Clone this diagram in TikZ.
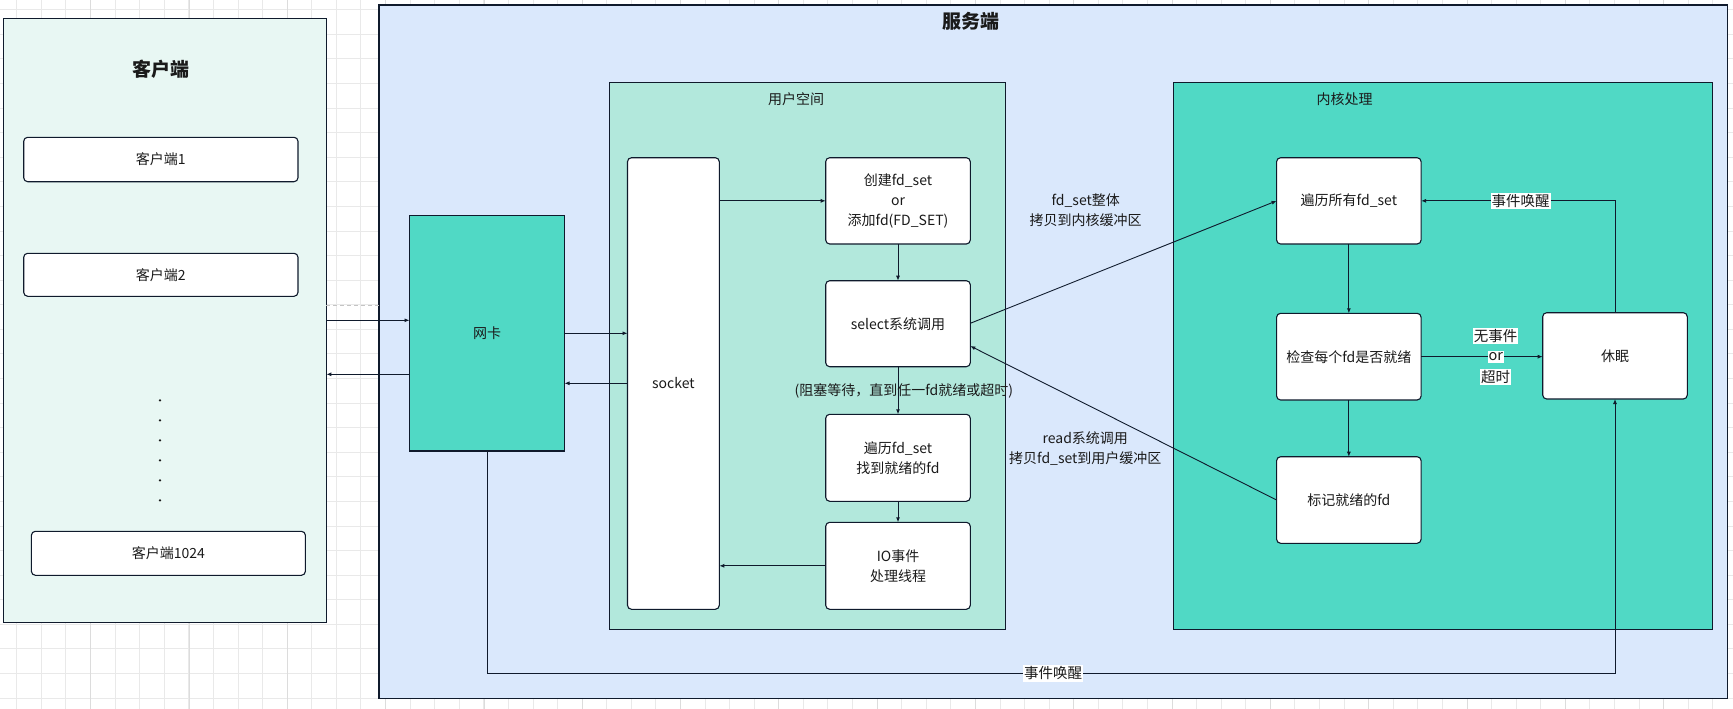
\documentclass[tikz,border=0pt]{standalone}
\usepackage{fontspec}
\setmainfont{Noto Sans CJK SC}
\usetikzlibrary{arrows.meta}
\definecolor{gridc}{HTML}{E9E9E9}
\definecolor{gridm}{HTML}{DCDCDC}
\definecolor{guidec}{HTML}{C4C4C4}
\definecolor{clientfill}{HTML}{E8F7F3}
\definecolor{serverfill}{HTML}{DAE8FC}
\definecolor{userfill}{HTML}{B2E8DC}
\definecolor{kernfill}{HTML}{50D9C5}
\definecolor{edgec}{HTML}{0F1A2C}
\definecolor{txtc}{HTML}{1A1A1A}
\begin{document}
\begin{tikzpicture}[x=1pt,y=-1pt,
  every node/.style={text=txtc, font=\fontsize{14}{20}\selectfont, inner sep=0pt, outer sep=0pt, align=center},
  sz/.style n args={2}{minimum width=#1pt, minimum height=#2pt},
  grp/.style={draw=edgec, line width=1.1pt, rectangle},
  wbox/.style={draw=edgec, line width=1.1pt, fill=white, rounded corners=4pt, rectangle},
  titlefont/.style={font=\fontsize{19}{22}\selectfont\bfseries},
  arr/.style={draw=edgec, line width=0.9pt, -{Latex[length=5pt,width=4pt]}},
  conn/.style={draw=edgec, line width=0.9pt},
  wl/.style={fill=white, inner xsep=1pt, inner ysep=1.5pt, font=\fontsize{14.5}{20}\selectfont}
]
\useasboundingbox (0,0) rectangle (1733,709);
\fill[white] (0,0) rectangle (1733,709);
% background grid
\foreach \i in {0,...,70} \draw[gridc, line width=0.8pt] ({16.72+24.58*\i},0) -- ({16.72+24.58*\i},709);
\foreach \j in {0,...,28} \draw[gridc, line width=0.8pt] (0,{9.72+24.58*\j}) -- (1733,{9.72+24.58*\j});
\foreach \i in {1,...,18} \draw[gridm, line width=0.9pt] ({-7.62+98.32*\i},0) -- ({-7.62+98.32*\i},709);

% containers
\node[grp, fill=clientfill, sz={323}{604}] (client) at (164.9,320.3) {};
\node[grp, fill=serverfill, sz={1348.5}{693.3}] (server) at (1053.25,351.65) {};
\draw[guidec, line width=0.8pt, dash pattern=on 4pt off 3pt] (client.east |- 0,305) -- (server.west |- 0,305);

\node[titlefont] (clienttitle) at (160.7,69) {客户端};
\node[titlefont] (servertitle) at (971,21.7) {服务端};

\node[wbox, sz={274.3}{44.4}] (c1) at (160.85,159.5) {客户端1};
\node[wbox, sz={274.3}{43}] (c2) at (160.85,274.8) {客户端2};
\node[wbox, sz={274}{44}] (c1024) at (168.4,553.3) {客户端1024};
\foreach \k in {0,...,5} \fill[txtc] (160,{400.3+20*\k}) circle (1.3pt);

\node[grp, fill=kernfill, sz={155}{235.3}] (nic) at (487,333.35) {网卡};

\node[grp, fill=userfill, sz={396.4}{547}] (user) at (807.5,355.8) {};
\node (usertitle) at (796,99.3) {用户空间};
\node[wbox, sz={91.8}{451.6}] (socket) at (673.4,383.5) {socket};
\node[wbox, sz={144.6}{86.3}] (create) at (898,200.85) {创建fd\_set\\or\\添加fd(FD\_SET)};
\node[wbox, sz={144.6}{86}] (select) at (898,323.7) {select系统调用};
\node[wbox, sz={144.6}{87}] (trav) at (898,457.8) {遍历fd\_set\\找到就绪的fd};
\node[wbox, sz={144.6}{87}] (io) at (898,565.8) {IO事件\\处理线程};

\node[grp, fill=kernfill, sz={539.4}{547}] (kernel) at (1443,355.8) {};
\node (kerneltitle) at (1344.5,99.3) {内核处理};
\node[wbox, sz={144.5}{86.3}] (travall) at (1348.85,200.85) {遍历所有fd\_set};
\node[wbox, sz={144.5}{86.7}] (check) at (1348.85,356.65) {检查每个fd是否就绪};
\node[wbox, sz={144.5}{86.6}] (mark) at (1348.85,500) {标记就绪的fd};
\node[wbox, sz={144.6}{86.3}] (sleep) at (1615,355.85) {休眠};

% connectors
\coordinate (bot) at (0,673.3);
\draw[arr] (client.east |- 0,320.3) -- (nic.west |- 0,320.3);
\draw[arr] (nic.west |- 0,374.3) -- (client.east |- 0,374.3);
\draw[arr] (nic.east |- 0,333.3) -- (socket.west |- 0,333.3);
\draw[arr] (socket.west |- 0,383.3) -- (nic.east |- 0,383.3);
\draw[arr] (socket.east |- create.west) -- (create.west);
\draw[arr] (create) -- (select);
\draw[arr] (select) -- (trav);
\draw[arr] (trav) -- (io);
\draw[arr] (io.west) -- (socket.east |- io.west);
\draw[arr] (select.east |- 0,323.3) -- (travall.west);
\draw[arr] (mark.west) -- (select.east |- 0,346);
\draw[arr] (travall) -- (check);
\draw[arr] (check) -- (mark);
\draw[arr] (check.east) -- (sleep.west |- check.east);
\draw[arr] (sleep.north) |- (travall.east);
\draw[arr] (nic.south) -- (nic.south |- bot) -- (sleep.south |- bot) -- (sleep.south);

% connector labels
\node (copyin) at (1085.7,210.3) {fd\_set整体\\拷贝到内核缓冲区};
\node (copyout) at (1085.3,448.3) {read系统调用\\拷贝fd\_set到用户缓冲区};
\node (block) at (903.8,391) {(阻塞等待，直到任一fd就绪或超时)};
\node[wl] (wake1) at (1520.7,201) {事件唤醒};
\node[wl] (none1) at (1495.7,335.7) {无事件};
\node[wl] (none2) at (1495.7,357) {or};
\node[wl] (none3) at (1495.7,377.3) {超时};
\node[wl] (wake2) at (1053,673.3) {事件唤醒};
\end{tikzpicture}
\end{document}
